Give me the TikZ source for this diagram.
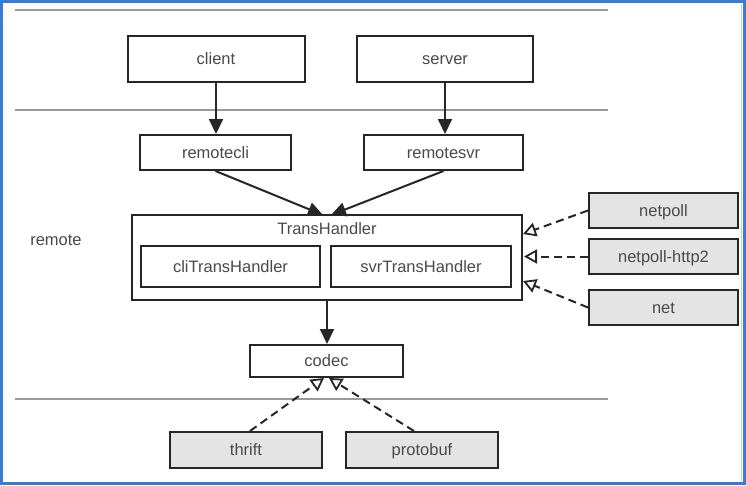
\documentclass[tikz,border=0pt]{standalone}
\usepackage{fontspec}
\setmainfont{Liberation Sans}
\usetikzlibrary{arrows.meta}
\definecolor{txt}{HTML}{4A4A4A}
\definecolor{frameblue}{HTML}{3A7BD5}
\definecolor{boxgray}{HTML}{E4E4E4}
\begin{document}
\begin{tikzpicture}[x=1pt,y=-1pt,
  every node/.style={font=\fontsize{16.5}{19}\selectfont, text=txt},
  box/.style={draw=black!85, line width=2pt, fill=white, inner sep=0pt, text height=12pt, text depth=0.5pt},
  implbox/.style={box, fill=boxgray},
  sep/.style={draw=black!40, line width=1.6pt},
  solidarrow/.style={draw=black!85, line width=2pt, -{Triangle[length=15pt,width=14pt]}},
  dasharrow/.style={draw=black!85, line width=2pt, dash pattern=on 8pt off 5pt, -{Triangle[open,length=13pt,width=14pt,line width=1.8pt]}}
]
\useasboundingbox (0,0) rectangle (746,485);
\fill[white] (0,0) rectangle (746,485);
\draw[frameblue, line width=3pt] (1.5,1.5) rectangle (744.5,483.5);
\draw[frameblue!35, line width=1pt] (741,4) -- (741,481);

\draw[sep] (15,10) -- (608,10);
\draw[sep] (15,110) -- (608,110);
\draw[sep] (15,399) -- (608,399);

\node[box, minimum width=177pt, minimum height=46pt] (client) at (216,59) {client};
\node[box, minimum width=176pt, minimum height=46pt] (server) at (445,59) {server};
\node[box, minimum width=151pt, minimum height=35pt] (rcli) at (215.5,152.5) {remotecli};
\node[box, minimum width=159pt, minimum height=35pt] (rsvr) at (443.5,152.5) {remotesvr};

\node[box, minimum width=390pt, minimum height=85pt] (th) at (327,257.5) {};
\node (thl) at (327,229) {TransHandler};
\node[box, minimum width=179pt, minimum height=41pt] (cth) at (230.5,266.5) {cliTransHandler};
\node[box, minimum width=180pt, minimum height=41pt] (sth) at (421,266.5) {svrTransHandler};

\node (remote) at (56,240) {remote};

\node[implbox, minimum width=149pt, minimum height=35pt] (np) at (663.5,210.5) {netpoll};
\node[implbox, minimum width=149pt, minimum height=35pt] (nph) at (663.5,256.5) {netpoll-http2};
\node[implbox, minimum width=149pt, minimum height=35pt] (net) at (663.5,307.5) {net};

\node[box, minimum width=153pt, minimum height=32pt] (codec) at (326.5,361) {codec};
\node[implbox, minimum width=152pt, minimum height=36pt] (thrift) at (246,450) {thrift};
\node[implbox, minimum width=152pt, minimum height=36pt] (pb) at (422,450) {protobuf};

\coordinate (thin1) at (323,215);
\coordinate (thin2) at (331,215);
\draw[solidarrow] (client.south) -- (client.south |- rcli.north);
\draw[solidarrow] (server.south) -- (server.south |- rsvr.north);
\draw[solidarrow] (rcli.south) -- (thin1);
\draw[solidarrow] (rsvr.south) -- (thin2);
\draw[solidarrow] (th.south) -- (th.south |- codec.north);

\coordinate (t1) at (523,234);
\coordinate (t2) at (524,256.5);
\coordinate (t3) at (523,281);
\draw[dasharrow] (np.west) -- (t1);
\draw[dasharrow] (nph.west) -- (t2);
\draw[dasharrow] (net.west) -- (t3);

\coordinate (c1) at (324,378);
\coordinate (c2) at (329,378);
\draw[dasharrow] ([xshift=4pt]thrift.north) -- (c1);
\draw[dasharrow] ([xshift=-8pt]pb.north) -- (c2);
\end{tikzpicture}
\end{document}
